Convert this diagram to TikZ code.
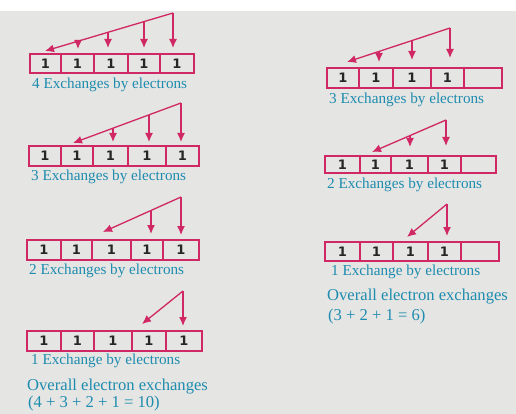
\documentclass[tikz,border=0pt]{standalone}
\usepackage{fontspec}
\setmainfont{Liberation Serif}
\newfontfamily\numfont{DejaVu Sans}
\usetikzlibrary{arrows.meta,calc}
\definecolor{crim}{RGB}{208,40,100}
\definecolor{labc}{RGB}{30,140,175}
\definecolor{paper}{RGB}{229,229,227}
\tikzset{
  cell/.style={draw=crim, line width=1.1pt, inner sep=0pt, outer sep=0pt,
    font=\numfont\bfseries\fontsize{13}{13}\selectfont, text=black!85},
  lab/.style={text=labc, inner sep=0pt, anchor=west, font=\fontsize{15.2}{16}\selectfont},
  biglab/.style={text=labc, inner sep=0pt, anchor=west, font=\fontsize{16.6}{18}\selectfont},
  arr/.style={draw=crim, line width=1.3pt, -{Latex[length=9pt,width=8pt]}}
}
\newcommand\mkcell[6]{\node[cell, minimum width={(#3-#2)*1pt}, minimum height={(#5-#4)*1pt}] (#1) at ({(#2+#3)/2},{(#4+#5)/2}) {#6};}
\newcommand\mkrow[9]{%
  \mkcell{#1c1}{#2}{#3}{#8}{#9}{1}
  \mkcell{#1c2}{#3}{#4}{#8}{#9}{1}
  \mkcell{#1c3}{#4}{#5}{#8}{#9}{1}
  \mkcell{#1c4}{#5}{#6}{#8}{#9}{1}
  \mkcell{#1c5}{#6}{#7}{#8}{#9}{\lastone}}
\newcommand\vertarr[3]{\draw[arr] let \p1=(#1), \p2=(#2), \p3=(#3) in
  (\x3,{\y1+(\x3-\x1)*(\y2-\y1)/(\x2-\x1)}) -- (#3);}
\begin{document}
\begin{tikzpicture}[x=1pt,y=-1pt]
\useasboundingbox (0,0) rectangle (516,414);
\fill[paper] (0,11) rectangle (516,414);
\fill[white] (0,0) rectangle (516,11);

% ---------- left column ----------
\def\lastone{1}
\mkrow{L1}{30}{61}{94}{128}{160}{194}{54}{73}
\mkrow{L2}{29}{61}{93}{128}{166}{199}{146}{166}
\mkrow{L3}{27}{61}{92}{131}{163}{199}{240}{260}
\mkrow{L4}{27}{61}{94}{132}{166}{202}{331}{351}
% ---------- right column ----------
\def\lastone{}
\mkrow{R1}{327}{359}{393}{431}{464}{502}{68}{88}
\mkrow{R2}{325}{360}{391}{428}{461}{496}{156}{173}
\mkrow{R3}{325}{360}{393}{428}{461}{499}{242}{261}

% labels
\node[lab] (L1lab) at (32,85) {4 Exchanges by electrons};
\node[lab] (L2lab) at (31,177) {3 Exchanges by electrons};
\node[lab] (L3lab) at (29,271) {2 Exchanges by electrons};
\node[lab] (L4lab) at (31,361) {1 Exchange by electrons};
\node[biglab] (Lover) at (27,387) {Overall electron exchanges};
\node[biglab] (Leq) at (28,404) {(4 + 3 + 2 + 1 = 10)};
\node[lab] (R1lab) at (329,100) {3 Exchanges by electrons};
\node[lab] (R2lab) at (327,185) {2 Exchanges by electrons};
\node[lab] (R3lab) at (331,272) {1 Exchange by electrons};
\node[biglab] (Rover) at (327,297) {Overall electron exchanges};
\node[biglab] (Req) at (328,317) {(3 + 2 + 1 = 6)};

% ---------- arrows: left ----------
\coordinate (L1a) at (173,13);  \coordinate (L1t) at (45,51);
\coordinate (L1e2) at (78,49); \coordinate (L1e3) at (108,48); \coordinate (L1e4) at (144,48); \coordinate (L1e5) at (173,48);
\draw[arr] (L1a) -- (L1t); \draw[arr] (L1a) -- (L1e5);
\vertarr{L1a}{L1t}{L1e2} \vertarr{L1a}{L1t}{L1e3} \vertarr{L1a}{L1t}{L1e4}

\coordinate (L2a) at (181,103); \coordinate (L2t) at (73,143);
\coordinate (L2e3) at (113,142); \coordinate (L2e4) at (149,142); \coordinate (L2e5) at (181,142);
\draw[arr] (L2a) -- (L2t); \draw[arr] (L2a) -- (L2e5);
\vertarr{L2a}{L2t}{L2e3} \vertarr{L2a}{L2t}{L2e4}

\coordinate (L3a) at (181,197); \coordinate (L3t) at (103,232);
\coordinate (L3e4) at (151,234); \coordinate (L3e5) at (181,235);
\draw[arr] (L3a) -- (L3t); \draw[arr] (L3a) -- (L3e5);
\vertarr{L3a}{L3t}{L3e4}

\coordinate (L4a) at (183,291); \coordinate (L4t) at (142,324);
\coordinate (L4e5) at (183,326);
\draw[arr] (L4a) -- (L4t); \draw[arr] (L4a) -- (L4e5);

% ---------- arrows: right ----------
\coordinate (R1a) at (450,28); \coordinate (R1t) at (347,62);
\coordinate (R1e2) at (379,62); \coordinate (R1e3) at (412,60); \coordinate (R1e4) at (450,58);
\draw[arr] (R1a) -- (R1t); \draw[arr] (R1a) -- (R1e4);
\vertarr{R1a}{R1t}{R1e2} \vertarr{R1a}{R1t}{R1e3}

\coordinate (R2a) at (446,120); \coordinate (R2t) at (372,152);
\coordinate (R2e3) at (410,147); \coordinate (R2e4) at (446,146);
\draw[arr] (R2a) -- (R2t); \draw[arr] (R2a) -- (R2e4);
\vertarr{R2a}{R2t}{R2e3}

\coordinate (R3a) at (447,204); \coordinate (R3t) at (407,237);
\coordinate (R3e4) at (447,236);
\draw[arr] (R3a) -- (R3t); \draw[arr] (R3a) -- (R3e4);
\end{tikzpicture}
\end{document}
